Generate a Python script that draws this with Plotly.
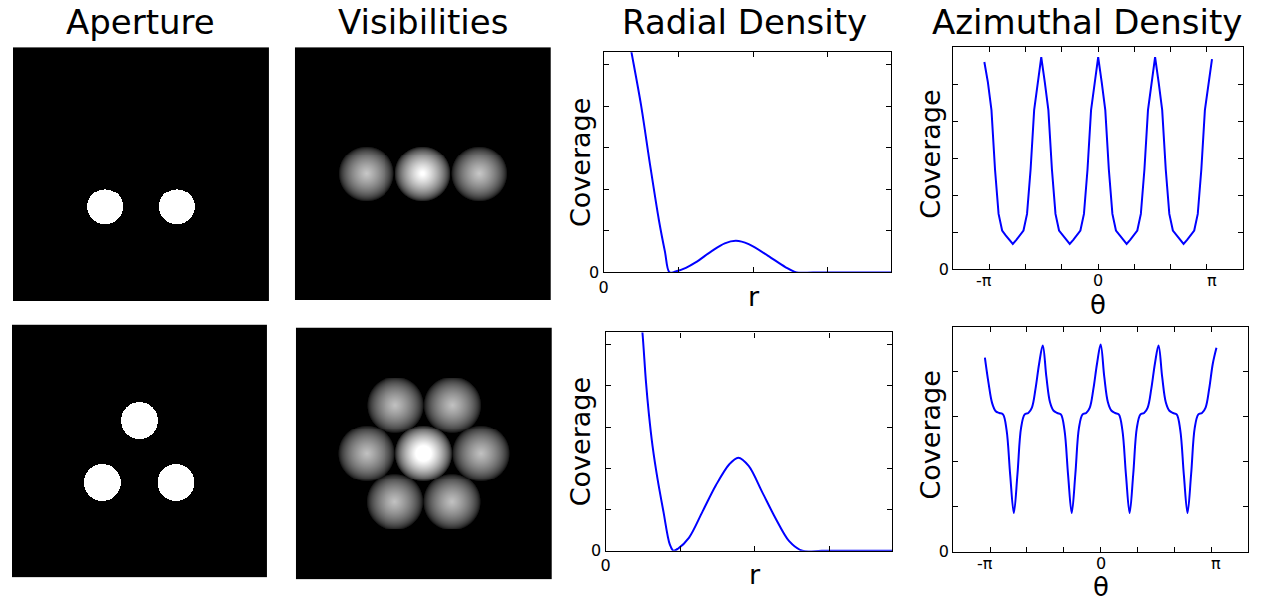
import numpy as np
import plotly.graph_objects as go

W, H = 1269, 606
FONT = "DejaVu Sans"

# ---- aperture hole layouts (image spans [-1, 1] on both axes) ----
holes_x_pair = [-0.284, 0.284]
holes_y_pair = [-0.257, -0.257]
hole_r_pair = 0.14

holes_x_tri = [0.0, -0.29, 0.285]
holes_y_tri = [0.242, -0.25, -0.25]
hole_r_tri = 0.144

# ---- radial coverage profiles ----
radius_pair = [0.30, 0.372, 0.50, 0.62, 0.74, 0.82, 0.88, 0.96, 1.10, 1.23, 1.45,
               1.62, 1.77, 1.94, 2.20, 2.43, 2.58, 2.80, 3.20, 3.86]
radial_pair = [6.0, 5.3, 4.03, 2.6, 1.25, 0.5, 0.0, 0.02, 0.11, 0.24, 0.52,
               0.70, 0.76, 0.68, 0.40, 0.13, 0.0, 0.0, 0.0, 0.0]

radius_tri = [0.45, 0.495, 0.54, 0.58, 0.63, 0.696, 0.776, 0.86, 0.91, 0.97, 1.12,
              1.30, 1.48, 1.66, 1.78, 1.92, 2.10, 2.28, 2.46, 2.64, 2.90, 3.30, 3.86]
radial_tri = [6.1, 5.28, 4.13, 3.33, 2.54, 1.75, 0.95, 0.16, 0.0, 0.05, 0.32,
              0.95, 1.59, 2.10, 2.26, 2.06, 1.43, 0.79, 0.24, 0.0, 0.0, 0.0, 0.0]

# ---- azimuthal coverage, sampled at 65 angles from -pi to pi ----
theta = np.linspace(-np.pi, np.pi, 65)
azimuth_pair = [
    5.60, 5.05, 4.30, 2.70, 1.50, 1.05, 0.92, 0.80, 0.69, 0.80, 0.92, 1.05, 1.50, 2.70, 4.30, 5.05,
    5.73, 5.05, 4.30, 2.70, 1.50, 1.05, 0.92, 0.80, 0.69, 0.80, 0.92, 1.05, 1.50, 2.70, 4.30, 5.05,
    5.73, 5.05, 4.30, 2.70, 1.50, 1.05, 0.92, 0.80, 0.69, 0.80, 0.92, 1.05, 1.50, 2.70, 4.30, 5.05,
    5.73, 5.05, 4.30, 2.70, 1.50, 1.05, 0.92, 0.80, 0.69, 0.80, 0.92, 1.05, 1.50, 2.70, 4.30, 5.05,
    5.68,
]
azimuth_tri = [
    4.31, 3.75, 3.30, 3.12, 3.08, 3.05, 2.70, 1.70, 0.86, 1.72, 2.75, 3.05, 3.08, 3.20, 3.62, 4.18,
    4.58, 3.88, 3.32, 3.13, 3.08, 3.05, 2.70, 1.70, 0.86, 1.72, 2.75, 3.05, 3.08, 3.20, 3.62, 4.18,
    4.60, 3.88, 3.32, 3.13, 3.08, 3.05, 2.70, 1.70, 0.86, 1.72, 2.75, 3.05, 3.08, 3.20, 3.62, 4.18,
    4.58, 3.88, 3.32, 3.13, 3.08, 3.05, 2.70, 1.70, 0.86, 1.72, 2.75, 3.05, 3.08, 3.20, 3.62, 4.18,
    4.53,
]


def aperture_image(hx, hy, r, n=257):
    g = np.linspace(-1, 1, n)
    X, Y = np.meshgrid(g, g)
    z = np.zeros_like(X)
    for cx, cy in zip(hx, hy):
        z[(X - cx) ** 2 + (Y - cy) ** 2 <= r ** 2] = 1.0
    return g, z


def disk_overlap(d):
    # normalised overlap area of two equal disks whose centres are d diameters apart
    x = np.clip(d, 0, 1)
    return np.where(d < 1, (2 / np.pi) * (np.arccos(x) - x * np.sqrt(1 - x ** 2)), 0.0)


def visibility_image(hx, hy, r, half=1.28, n=257, gamma=0.4):
    g = np.linspace(-half, half, n)
    U, V = np.meshgrid(g, g)
    z = np.zeros_like(U)
    for xi, yi in zip(hx, hy):
        for xj, yj in zip(hx, hy):
            d = np.hypot(U - (xi - xj), V - (yi - yj)) / (2 * r)
            z += disk_overlap(d)
    return g, (z / z.max()) ** gamma


# panel boxes in pixels: (left, top, right, bottom)
boxes = {
    1: (8, 48, 265, 306), 2: (291, 48, 548, 305), 3: (601, 53, 890, 277), 4: (952, 48, 1243, 274),
    5: (7, 330, 263, 587), 6: (292, 333, 549, 589), 7: (603, 338, 891, 560), 8: (952, 332, 1248, 561),
}


def px(x):
    return x / W


def py(y):
    return 1 - y / H


fig = go.Figure()
layout = dict(width=W, height=H, margin=dict(l=0, r=0, t=0, b=0),
              paper_bgcolor="white", plot_bgcolor="white", showlegend=False,
              font=dict(family=FONT, color="black"))

for k, (l, t, r, b) in boxes.items():
    layout[f"xaxis{k}"] = dict(domain=[px(l), px(r)], anchor=f"y{k}")
    layout[f"yaxis{k}"] = dict(domain=[py(b), py(t)], anchor=f"x{k}")

gray = [[0, "black"], [1, "white"]]

# apertures and visibilities
for k, (hx, hy, hr, vmax) in {1: (holes_x_pair, holes_y_pair, hole_r_pair, 0.97),
                              5: (holes_x_tri, holes_y_tri, hole_r_tri, 0.85)}.items():
    g, z = aperture_image(hx, hy, hr)
    fig.add_trace(go.Heatmap(x=g, y=g, z=z, colorscale=gray, zmin=0, zmax=1, showscale=False,
                             xaxis=f"x{k}", yaxis=f"y{k}", hoverinfo="skip"))
    step = g[1] - g[0]
    for ax in ("x", "y"):
        layout[f"{ax}axis{k}"].update(range=[g[0] - step / 2, g[-1] + step / 2], visible=False)

    gv, zv = visibility_image(hx, hy, hr)
    kv = k + 1
    fig.add_trace(go.Heatmap(x=gv, y=gv, z=zv, colorscale=gray, zmin=0, zmax=vmax, showscale=False,
                             xaxis=f"x{kv}", yaxis=f"y{kv}", hoverinfo="skip"))
    step = gv[1] - gv[0]
    for ax in ("x", "y"):
        layout[f"{ax}axis{kv}"].update(range=[gv[0] - step / 2, gv[-1] + step / 2], visible=False)

line = dict(color="#0000ff", width=2)
frame = dict(showline=True, linecolor="black", linewidth=1.3, mirror="allticks",
             ticks="inside", ticklen=5, tickwidth=1, tickcolor="black",
             showgrid=False, zeroline=False, tickfont=dict(size=16, family=FONT))

# radial density
for k, (rr, cc) in {3: (radius_pair, radial_pair), 7: (radius_tri, radial_tri)}.items():
    fig.add_trace(go.Scatter(x=rr, y=cc, mode="lines", line=dict(shape="spline", smoothing=0.9, **line),
                             xaxis=f"x{k}", yaxis=f"y{k}", hoverinfo="skip"))
    layout[f"xaxis{k}"].update(frame, range=[0, 3.85], tickmode="array",
                               tickvals=[0, 1, 2, 3], ticktext=["0", "", "", ""])
    layout[f"yaxis{k}"].update(frame, range=[0, 5.3], tickmode="array",
                               tickvals=[0, 1, 2, 3, 4, 5], ticktext=["0", "", "", "", "", ""])

# azimuthal density
for k, (az, ymax, shape) in {4: (azimuth_pair, 6.0, "linear"), 8: (azimuth_tri, 5.0, "spline")}.items():
    fig.add_trace(go.Scatter(x=theta, y=az, mode="lines", line=dict(shape=shape, **line),
                             xaxis=f"x{k}", yaxis=f"y{k}", hoverinfo="skip"))
    layout[f"xaxis{k}"].update(frame, range=[-4, 4], tickmode="array",
                               tickvals=list(range(-4, 5)), showticklabels=False)
    layout[f"yaxis{k}"].update(frame, range=[0, ymax], tickmode="array",
                               tickvals=list(range(0, int(ymax) + 1)),
                               ticktext=["0"] + [""] * int(ymax))

annotations = []


def text(x, y, s, size, **kw):
    annotations.append(dict(x=px(x), y=py(y), xref="paper", yref="paper", text=s, showarrow=False,
                            xanchor="center", yanchor="middle",
                            font=dict(size=size, family=FONT, color="black"), **kw))


# column titles
text(136, 22, "Aperture", 34)
text(420, 22, "Visibilities", 34)
text(742, 22, "Radial Density", 34)
text(1086, 22, "Azimuthal Density", 34)

# axis titles
for k in (3, 7, 4, 8):
    l, t, r, b = boxes[k]
    cx = (l + r) / 2
    cy = (t + b) / 2 - (4 if k in (4, 8) else 0)
    text(578 if k in (3, 7) else 929, cy, "Coverage", 27, textangle=-90)
    if k in (3, 7):
        text(cx + 6, b + 24, "r", 27)
    else:
        text(cx, b + 36, "θ", 26, height=22, valign="middle")
        for val, lab in ((-np.pi, "-π"), (0.0, "0"), (np.pi, "π")):
            annotations.append(dict(x=val, y=py(b), xref=f"x{k}", yref="paper", text=lab,
                                    showarrow=False, xanchor="center", yanchor="top", yshift=-1,
                                    height=16, valign="middle",
                                    font=dict(size=16, family=FONT, color="black")))

layout["annotations"] = annotations
fig.update_layout(**layout)
fig.write_html("out.html")
